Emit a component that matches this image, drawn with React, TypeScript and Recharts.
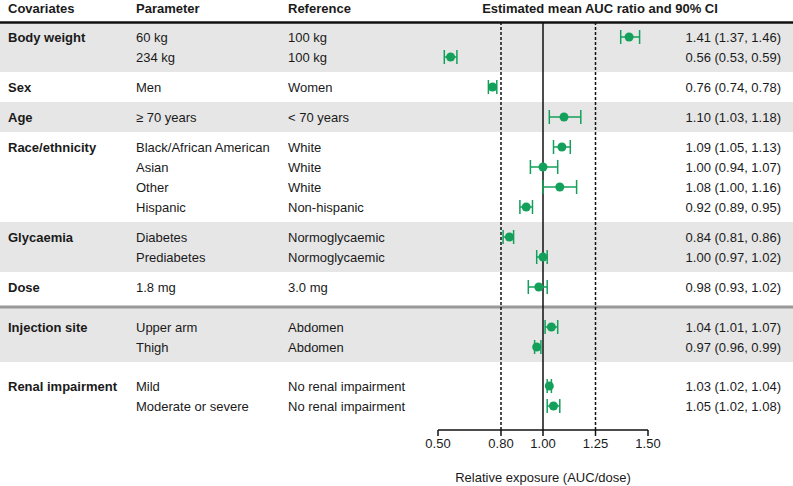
import {
  ErrorBar,
  ReferenceArea,
  ReferenceLine,
  Scatter,
  ScatterChart,
  XAxis,
  YAxis,
} from "recharts";

const covariates = [
  "Body weight",
  "Sex",
  "Age",
  "Race/ethnicity",
  "Glycaemia",
  "Dose",
  "Injection site",
  "Renal impairment",
];

const parameters = [
  "60 kg",
  "234 kg",
  "Men",
  "≥ 70 years",
  "Black/African American",
  "Asian",
  "Other",
  "Hispanic",
  "Diabetes",
  "Prediabetes",
  "1.8 mg",
  "Upper arm",
  "Thigh",
  "Mild",
  "Moderate or severe",
];

const references = [
  "100 kg",
  "100 kg",
  "Women",
  "< 70 years",
  "White",
  "White",
  "White",
  "Non-hispanic",
  "Normoglycaemic",
  "Normoglycaemic",
  "3.0 mg",
  "Abdomen",
  "Abdomen",
  "No renal impairment",
  "No renal impairment",
];

// covariate index of each row
const groupOf = [0, 0, 1, 2, 3, 3, 3, 3, 4, 4, 5, 6, 6, 7, 7];

const ratio = [1.41, 0.56, 0.76, 1.1, 1.09, 1.0, 1.08, 0.92, 0.84, 1.0, 0.98, 1.04, 0.97, 1.03, 1.05];
const ciLow = [1.37, 0.53, 0.74, 1.03, 1.05, 0.94, 1.0, 0.89, 0.81, 0.97, 0.93, 1.01, 0.96, 1.02, 1.02];
const ciHigh = [1.46, 0.59, 0.78, 1.18, 1.13, 1.07, 1.16, 0.95, 0.86, 1.02, 1.02, 1.07, 0.99, 1.04, 1.08];

const xTicks = [0.5, 0.8, 1.0, 1.25, 1.5];
const equivalenceLimits = [0.8, 1.25];

// the thick grey rule sits above this covariate
const SEPARATOR_BEFORE = 6;

// layout, in row units (one row = 20px)
const PAD = 0.5;
const SEP_GAP = 0.5;
const Y_MAX = 20.4;

const W = 793;
const H = 486;
const GREEN = "#13a05a";
const FONT = '"Liberation Sans", Arial, sans-serif';

const rowPos: number[] = [];
const bands: { y1: number; y2: number; shaded: boolean }[] = [];
let separatorY = 0;
{
  let cursor = 0;
  covariates.forEach((_, gi) => {
    let bandStart = cursor;
    if (gi === SEPARATOR_BEFORE) {
      separatorY = cursor + SEP_GAP / 2;
      bandStart = separatorY;
      cursor += SEP_GAP;
    }
    const idx = groupOf.map((g, i) => (g === gi ? i : -1)).filter((i) => i >= 0);
    const start = cursor;
    const end = gi === covariates.length - 1 ? Y_MAX : cursor + idx.length + PAD;
    const mid = (start + end) / 2;
    idx.forEach((ri, k) => {
      rowPos[ri] = mid - (idx.length - 1) / 2 + k;
    });
    bands.push({ y1: bandStart, y2: end, shaded: gi % 2 === 0 });
    cursor = end;
  });
}

const data = ratio.map((r, i) => ({
  ratio: r,
  pos: rowPos[i],
  err: [r - ciLow[i], ciHigh[i] - r],
}));

const RowTick = ({ y, payload }: any) => {
  const i = rowPos.findIndex((p) => Math.abs(p - payload.value) < 1e-6);
  if (i < 0) return null;
  const first = groupOf.indexOf(groupOf[i]) === i;
  const t = { fontSize: 13, fill: "#1a1a1a", fontFamily: FONT, dy: "0.35em" };
  return (
    <g>
      {first && (
        <text x={8} y={y} {...t} fontWeight="bold">
          {covariates[groupOf[i]]}
        </text>
      )}
      <text x={136} y={y} {...t}>
        {parameters[i]}
      </text>
      <text x={288} y={y} {...t}>
        {references[i]}
      </text>
      <text x={781} y={y} {...t} textAnchor="end">
        {`${ratio[i].toFixed(2)} (${ciLow[i].toFixed(2)}, ${ciHigh[i].toFixed(2)})`}
      </text>
    </g>
  );
};

const header = (left: number, text: string, center = false) => (
  <div
    style={{
      position: "absolute",
      top: 1,
      left: center ? left - 150 : left,
      width: center ? 300 : undefined,
      textAlign: center ? "center" : "left",
      fontSize: 13,
      lineHeight: "16px",
      fontWeight: "bold",
      color: "#1a1a1a",
      whiteSpace: "nowrap",
    }}
  >
    {text}
  </div>
);

export default function App() {
  return (
    <div
      style={{
        position: "absolute",
        left: 0,
        top: 0,
        width: W,
        height: H,
        background: "#fff",
        fontFamily: FONT,
      }}
    >
      <ScatterChart
        width={W}
        height={H}
        margin={{ top: 22, right: 145, bottom: 0, left: 0 }}
      >
        {bands.map((b, i) => (
          <ReferenceArea
            key={`band-${i}`}
            y1={b.y1}
            y2={b.y2}
            ifOverflow="visible"
            shape={(p: any) => (
              <rect x={0} width={W} y={p.y} height={p.height} fill={b.shaded ? "#e6e6e6" : "#fff"} />
            )}
          />
        ))}
        <ReferenceArea
          y1={0}
          y2={0}
          ifOverflow="visible"
          shape={(p: any) => (
            <line x1={0} x2={W} y1={p.y + 0.5} y2={p.y + 0.5} stroke="#111" strokeWidth={2.5} />
          )}
        />
        <ReferenceArea
          y1={separatorY}
          y2={separatorY}
          ifOverflow="visible"
          shape={(p: any) => (
            <line x1={0} x2={W} y1={p.y} y2={p.y} stroke="#999" strokeWidth={3} />
          )}
        />
        <XAxis
          type="number"
          dataKey="ratio"
          domain={[0.5, 1.5]}
          ticks={xTicks}
          interval={0}
          tickFormatter={(v: number) => v.toFixed(2)}
          axisLine={{ stroke: "#111", strokeWidth: 1.5 }}
          tickLine={{ stroke: "#111", strokeWidth: 1.5 }}
          tickSize={6}
          tickMargin={3}
          tick={{ fontSize: 13, fill: "#1a1a1a", fontFamily: FONT }}
          height={56}
          label={{
            value: "Relative exposure (AUC/dose)",
            position: "insideBottom",
            offset: 4,
            fontSize: 13,
            fill: "#1a1a1a",
            fontFamily: FONT,
          }}
        />
        <YAxis
          type="number"
          dataKey="pos"
          domain={[0, Y_MAX]}
          reversed
          ticks={rowPos}
          interval={0}
          axisLine={false}
          tickLine={false}
          width={438}
          tick={<RowTick />}
        />
        {equivalenceLimits.map((x) => (
          <ReferenceLine
            key={x}
            x={x}
            stroke="#111"
            strokeWidth={1.5}
            strokeDasharray="3 2"
          />
        ))}
        <ReferenceLine x={1} stroke="#111" strokeWidth={1.5} />
        <Scatter
          data={data}
          isAnimationActive={false}
          shape={(p: any) => <circle cx={p.cx} cy={p.cy} r={4.5} fill={GREEN} />}
        >
          <ErrorBar
            dataKey="err"
            direction="x"
            width={7}
            stroke={GREEN}
            strokeWidth={1.5}
          />
        </Scatter>
      </ScatterChart>
      {header(8, "Covariates")}
      {header(136, "Parameter")}
      {header(288, "Reference")}
      {header(600, "Estimated mean AUC ratio and 90% CI", true)}
    </div>
  );
}
